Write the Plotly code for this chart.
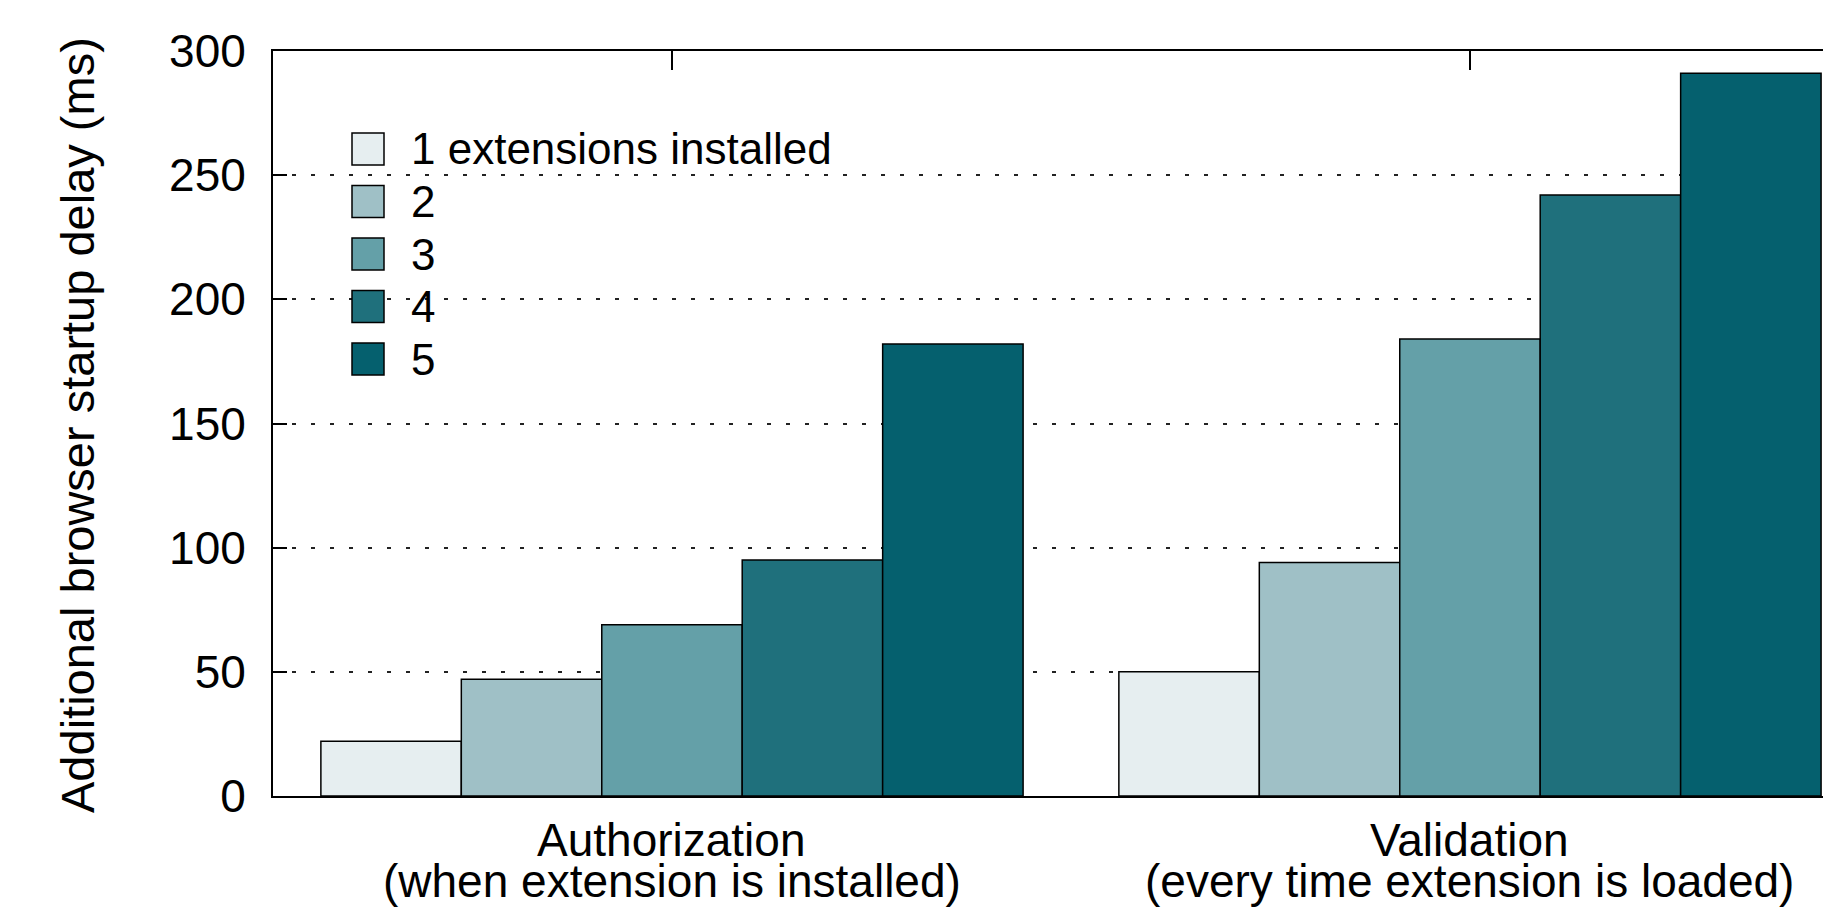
import plotly.graph_objects as go

# ---- data -------------------------------------------------------------
categories = ["Authorization", "Validation"]
group_titles = ["Authorization", "Validation"]
group_subtitles = ["(when extension is installed)", "(every time extension is loaded)"]

series_names = ["1 extensions installed", "2", "3", "4", "5"]
authorization_ms = [22, 47, 69, 95, 182]
validation_ms = [50, 94, 184, 242, 291]

series_colors = ["#e6eef0", "#9fc0c6", "#64a0a8", "#1f707c", "#05606e"]

y_ticks = [0, 50, 100, 150, 200, 250, 300]

# ---- geometry -----------------------------------------------------------
W, H = 1823, 908
ML, MR, MT, MB = 273, 0, 51, 112
PW, PH = W - ML - MR, H - MT - MB
FONT = "Liberation Sans, Arial, Helvetica, sans-serif"


def px_x(px):
    return (px - ML) / PW


def px_y(py):
    return (H - MB - py) / PH


fig = go.Figure()

for i, name in enumerate(series_names):
    fig.add_trace(go.Bar(
        x=categories,
        y=[authorization_ms[i], validation_ms[i]],
        name=name,
        marker=dict(color=series_colors[i], line=dict(color="black", width=1.5)),
        showlegend=False,
    ))

# legend drawn as large swatches with labels
shapes = []
annotations = []
row0, row_step = 149, 52.5
for i, name in enumerate(series_names):
    cy = row0 + i * row_step
    shapes.append(dict(
        type="rect", xref="paper", yref="paper",
        x0=px_x(352), x1=px_x(384), y0=px_y(cy + 16), y1=px_y(cy - 16),
        fillcolor=series_colors[i], line=dict(color="black", width=1.5),
        layer="above",
    ))
    annotations.append(dict(
        xref="paper", yref="paper", x=px_x(409), y=px_y(cy),
        xanchor="left", yanchor="middle", text=name, showarrow=False,
        font=dict(family=FONT, size=44, color="black"),
    ))

# two-line group labels under the x axis (tightly stacked lines)
for cat, title, sub in zip(categories, group_titles, group_subtitles):
    annotations.append(dict(
        xref="x", yref="paper", x=cat, y=px_y(840),
        xanchor="center", yanchor="middle", text=title, showarrow=False,
        font=dict(family=FONT, size=46, color="black"),
    ))
    annotations.append(dict(
        xref="x", yref="paper", x=cat, y=px_y(881),
        xanchor="center", yanchor="middle", text=sub, showarrow=False,
        font=dict(family=FONT, size=46, color="black"),
    ))

# y axis title
annotations.append(dict(
    xref="paper", yref="paper", x=px_x(77), y=px_y(425),
    xanchor="center", yanchor="middle", textangle=-90,
    text="Additional browser startup delay (ms)", showarrow=False,
    font=dict(family=FONT, size=47, color="black"),
))

fig.update_layout(
    width=W, height=H,
    margin=dict(l=ML, r=MR, t=MT, b=MB, pad=0),
    paper_bgcolor="white", plot_bgcolor="white",
    barmode="group", bargap=0.12, bargroupgap=0,
    font=dict(family=FONT, color="black"),
    shapes=shapes, annotations=annotations,
    showlegend=False,
)

fig.update_xaxes(
    type="category", categoryorder="array", categoryarray=categories,
    range=[-0.5, 1.4424],
    showticklabels=False, ticks="inside", ticklen=19, tickwidth=1.5, tickcolor="black",
    showline=True, linecolor="black", linewidth=2, mirror="ticks",
    showgrid=False, zeroline=False, layer="below traces",
)

fig.update_yaxes(
    range=[0, 300], tickvals=y_ticks,
    ticks="inside", ticklen=14, tickwidth=1.5, tickcolor="black",
    tickfont=dict(family=FONT, size=46, color="black"), ticklabelstandoff=16,
    showline=True, linecolor="black", linewidth=2,
    showgrid=True, gridcolor="#222222", gridwidth=2, griddash="4px,15px",
    zeroline=False,
)

fig.write_html("out.html")
